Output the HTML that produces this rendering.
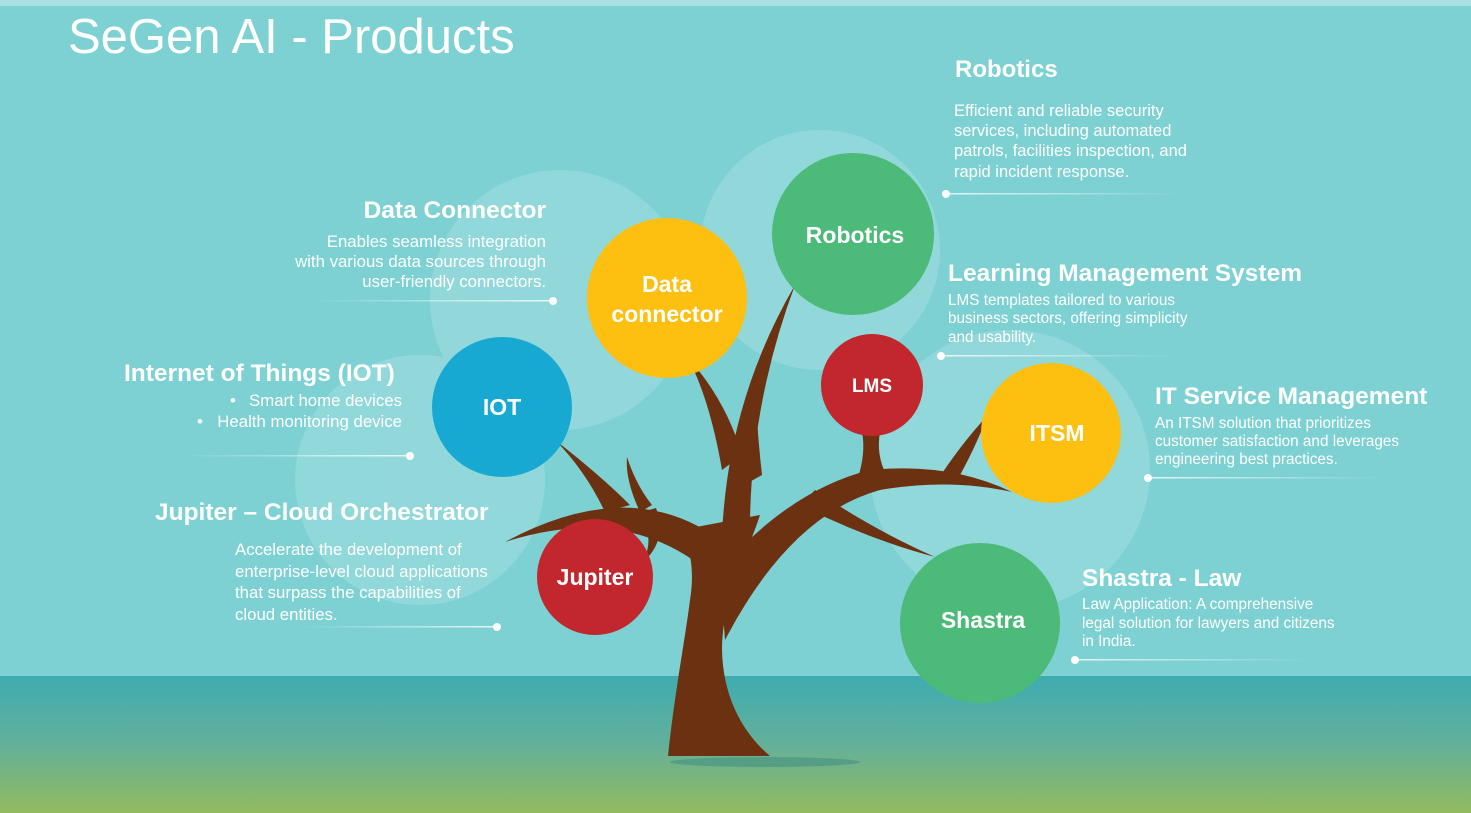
<!DOCTYPE html>
<html><head><meta charset="utf-8"><style>
body{margin:0;width:1471px;height:813px;overflow:hidden;font-family:"Liberation Sans",sans-serif;}
svg{display:block}
</style></head><body>
<svg width="1471" height="813" viewBox="0 0 1471 813" xmlns="http://www.w3.org/2000/svg" font-family="Liberation Sans, sans-serif">
<defs>
<linearGradient id="g" x1="0" y1="0" x2="0" y2="1">
<stop offset="0" stop-color="#3eacb0"/><stop offset="0.5" stop-color="#63b09a"/><stop offset="1" stop-color="#93ba5e"/>
</linearGradient>
<linearGradient id="lr" x1="0" x2="1"><stop offset="0" stop-color="#fff" stop-opacity="0"/><stop offset="1" stop-color="#fff" stop-opacity="0.8"/></linearGradient>
<linearGradient id="ll" x1="0" x2="1"><stop offset="0" stop-color="#fff" stop-opacity="0.8"/><stop offset="1" stop-color="#fff" stop-opacity="0"/></linearGradient>
</defs>
<rect width="1471" height="813" fill="#7dd1d3"/>
<rect width="1471" height="6" fill="#a9e0e1"/>
<rect y="676" width="1471" height="137" fill="url(#g)"/>
<g fill="#fff" opacity="0.16">
<circle cx="560" cy="300" r="130"/><circle cx="820" cy="250" r="120"/><circle cx="420" cy="480" r="125"/><circle cx="1010" cy="470" r="140"/>
</g>
<ellipse cx="765" cy="762" rx="95" ry="5" fill="#3a8a80" opacity="0.5"/>
<!-- tree -->
<g fill="#6b3110">
<path d="M668,756 C675,690 685,640 690,600 C695,570 690,545 680,530 L760,515 C745,560 722,600 722,650 C723,700 745,735 770,756 Z"/>
<path d="M705,530 Q620,480 505,542 Q620,505 700,565 Z"/>
<path d="M605,512 Q585,470 555,440 Q600,475 630,505 Z"/>
<path d="M632,515 Q658,530 643,562 Q668,540 656,508 Z"/>
<path d="M640,512 Q625,480 627,457 Q636,485 652,505 Z"/>
<path d="M722,535 Q728,400 795,285 Q752,400 750,520 Z"/>
<path d="M722,470 Q710,400 688,358 Q726,400 742,455 Z"/>
<path d="M744,485 Q745,430 756,403 Q758,440 762,475 Z"/>
<path d="M720,570 Q790,490 870,470 Q950,462 1012,492 Q950,478 880,490 Q790,515 725,640 Z"/>
<path d="M858,478 Q866,452 862,432 L880,432 Q876,455 886,474 Z"/>
<path d="M935,484 Q960,445 988,415 Q972,455 956,482 Z"/>
<path d="M800,505 Q870,540 935,557 Q870,528 815,490 Z"/>
</g>
<!-- circles -->
<circle cx="667" cy="298" r="80" fill="#fdbf10"/>
<circle cx="853" cy="234" r="81" fill="#4cba78"/>
<circle cx="502" cy="407" r="70" fill="#17a9d1"/>
<circle cx="872" cy="385" r="51" fill="#c1272d"/>
<circle cx="1051" cy="433" r="70" fill="#fdbf10"/>
<circle cx="595" cy="577" r="58" fill="#c1272d"/>
<circle cx="980" cy="623" r="80" fill="#4cba78"/>
<g fill="#fff" font-weight="bold" text-anchor="middle" font-size="23">
<text x="667" y="292">Data</text><text x="667" y="322">connector</text>
<text x="855" y="243">Robotics</text>
<text x="502" y="415">IOT</text>
<text x="872" y="392" font-size="19">LMS</text>
<text x="1057" y="441">ITSM</text>
<text x="595" y="585">Jupiter</text>
<text x="983" y="628">Shastra</text>
</g>
<text x="68" y="53" fill="#fff" font-size="49">SeGen AI - Products</text>
<g fill="#fff">
<text x="955" y="77" font-size="24" font-weight="bold">Robotics</text>
<text font-size="16.5"><tspan x="954" y="116">Efficient and reliable security</tspan><tspan x="954" y="136">services, including automated</tspan><tspan x="954" y="156">patrols, facilities inspection, and</tspan><tspan x="954" y="177">rapid incident response.</tspan></text>
<text x="546" y="218" font-size="24.5" font-weight="bold" text-anchor="end">Data Connector</text>
<text font-size="16.8" text-anchor="end"><tspan x="546" y="247">Enables seamless integration</tspan><tspan x="546" y="267">with various data sources through</tspan><tspan x="546" y="287">user-friendly connectors.</tspan></text>
<text x="948" y="281" font-size="24.5" font-weight="bold">Learning Management System</text>
<text font-size="15.3"><tspan x="948" y="305">LMS templates tailored to various</tspan><tspan x="948" y="323">business sectors, offering simplicity</tspan><tspan x="948" y="342">and usability.</tspan></text>
<text x="124" y="381" font-size="24.5" font-weight="bold">Internet of Things (IOT)</text>
<g font-size="16.8"><text x="402" y="406" text-anchor="end">Smart home devices</text><text x="230" y="406">•</text>
<text x="402" y="427" text-anchor="end">Health monitoring device</text><text x="197" y="427">•</text></g>
<text x="1155" y="404" font-size="24.5" font-weight="bold">IT Service Management</text>
<text font-size="15.3"><tspan x="1155" y="428">An ITSM solution that prioritizes</tspan><tspan x="1155" y="446">customer satisfaction and leverages</tspan><tspan x="1155" y="464">engineering best practices.</tspan></text>
<text x="155" y="520" font-size="24.5" font-weight="bold">Jupiter – Cloud Orchestrator</text>
<text font-size="16.8"><tspan x="235" y="555">Accelerate the development of</tspan><tspan x="235" y="577">enterprise-level cloud applications</tspan><tspan x="235" y="598">that surpass the capabilities of</tspan><tspan x="235" y="620">cloud entities.</tspan></text>
<text x="1082" y="586" font-size="24.5" font-weight="bold">Shastra - Law</text>
<text font-size="15.3"><tspan x="1082" y="609">Law Application: A comprehensive</tspan><tspan x="1082" y="628">legal solution for lawyers and citizens</tspan><tspan x="1082" y="646">in India.</tspan></text>
</g>
<!-- connector lines -->
<rect x="310" y="300" width="243" height="1.5" fill="url(#lr)"/><circle cx="553" cy="301" r="4" fill="#fff"/>
<rect x="180" y="455" width="230" height="1.5" fill="url(#lr)"/><circle cx="410" cy="456" r="4" fill="#fff"/>
<rect x="300" y="626" width="197" height="1.5" fill="url(#lr)"/><circle cx="497" cy="627" r="4" fill="#fff"/>
<rect x="946" y="193" width="235" height="1.5" fill="url(#ll)"/><circle cx="946" cy="194" r="4" fill="#fff"/>
<rect x="941" y="355" width="235" height="1.5" fill="url(#ll)"/><circle cx="941" cy="356" r="4" fill="#fff"/>
<rect x="1148" y="477" width="235" height="1.5" fill="url(#ll)"/><circle cx="1148" cy="478" r="4" fill="#fff"/>
<rect x="1075" y="659" width="235" height="1.5" fill="url(#ll)"/><circle cx="1075" cy="660" r="4" fill="#fff"/>
</svg>
</body></html>
